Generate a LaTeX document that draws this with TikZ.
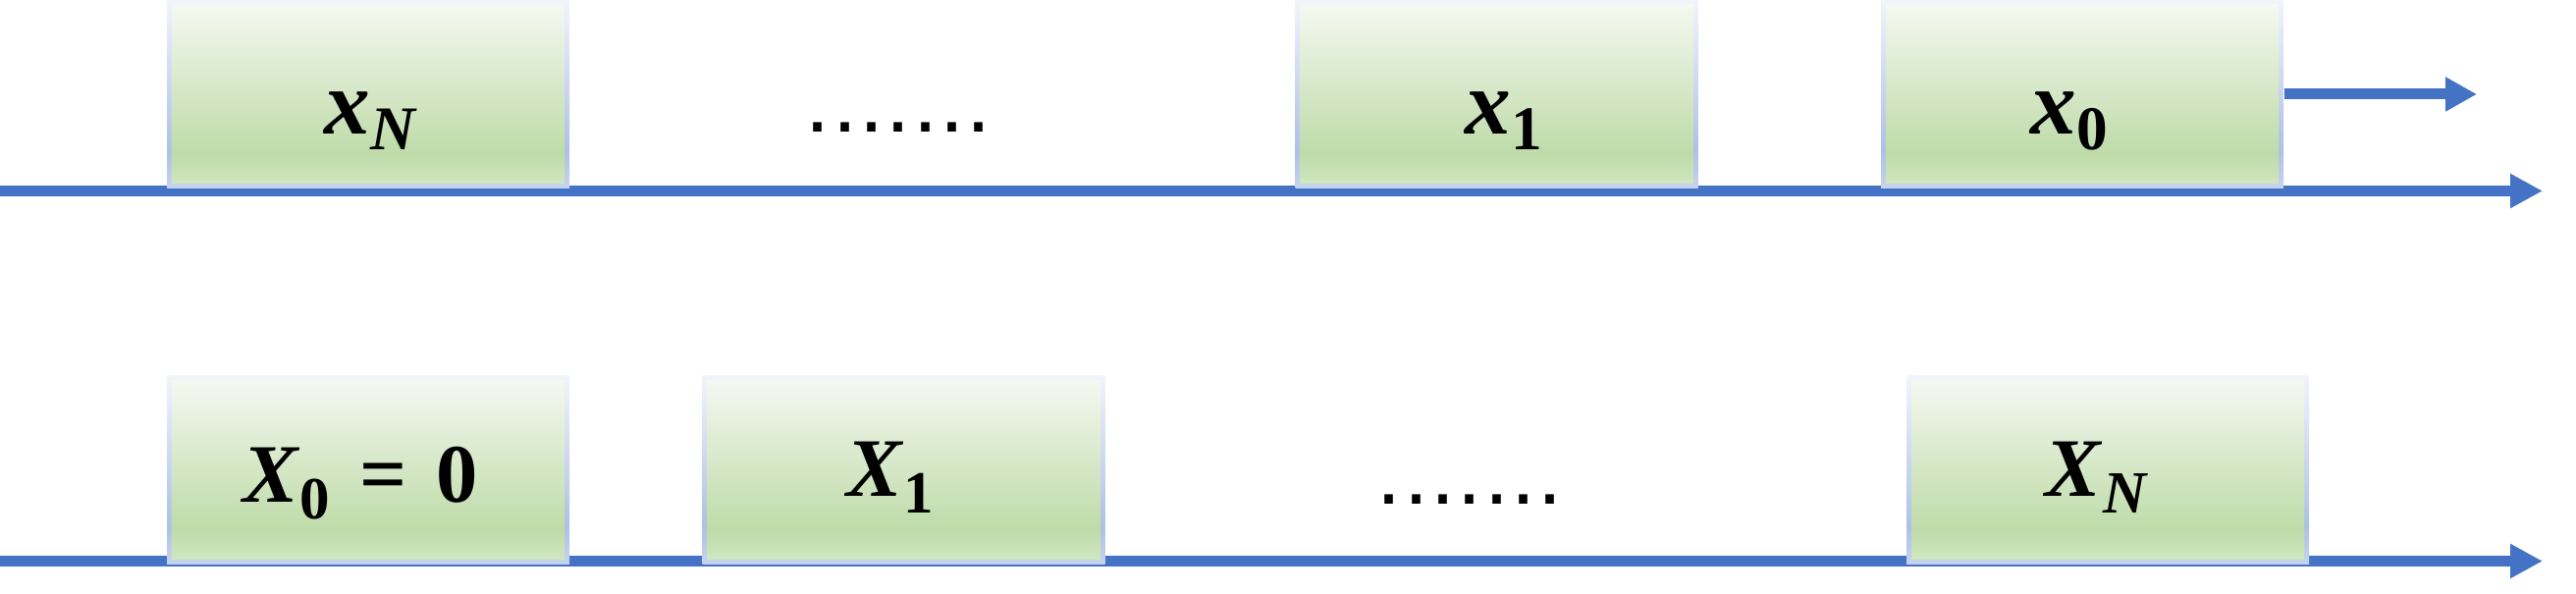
\documentclass[tikz,border=0pt]{standalone}
\usepackage{fontspec}
\setmainfont{Liberation Serif}
\newfontfamily\dotfont{Liberation Sans}
\usetikzlibrary{arrows.meta}
\definecolor{axisblue}{HTML}{4472C4}
\definecolor{ftop}{HTML}{F6F9F3}
\definecolor{fdark}{HTML}{BEDBA8}
\definecolor{fbot}{HTML}{D4E8C6}
\definecolor{btop}{HTML}{F2F4FB}
\definecolor{bdark}{HTML}{ADC1E5}
\definecolor{bbot}{HTML}{C6D4EE}
\pgfdeclareverticalshading{fillgrad}{100bp}{color(0bp)=(fbot); color(25bp)=(fbot); color(34bp)=(fdark); color(75bp)=(ftop); color(100bp)=(ftop)}
\pgfdeclareverticalshading{bordgrad}{100bp}{color(0bp)=(bbot); color(25bp)=(bbot); color(35bp)=(bdark); color(75bp)=(btop); color(100bp)=(btop)}
\newcommand{\sbs}[3]{\raisebox{-#1}{\fontsize{#2}{#2}\selectfont #3}}
\newcommand{\dt}{\makebox[8.19pt]{.}}
\begin{document}
\begin{tikzpicture}[x=0.3pt,y=-0.3pt,
  axis/.style={draw=axisblue,line width=3.3pt,-{Triangle[length=9.9pt,width=9.9pt]}},
  smallarrow/.style={draw=axisblue,line width=3.3pt,-{Triangle[length=9.6pt,width=9.9pt]}},
  slot/.style={rectangle,inner sep=0pt,minimum width=123pt,minimum height=57.6pt,
    shading=bordgrad,
    path picture={\shade[shading=fillgrad]
      ([xshift=1.5pt,yshift=-1.5pt]path picture bounding box.north west) rectangle
      ([xshift=-1.5pt,yshift=1.5pt]path picture bounding box.south east);}},
  toplabel/.style={anchor=base,inner sep=0pt,font=\fontsize{28pt}{30pt}\selectfont\bfseries},
  botlabel/.style={anchor=base,inner sep=0pt,font=\fontsize{25.4pt}{28pt}\selectfont\bfseries},
  dots/.style={anchor=base west,inner sep=0pt,font=\dotfont\fontsize{27pt}{27pt}\selectfont}]
\useasboundingbox (0,0) rectangle (2624,605);
% axes
\coordinate (t0) at (0,194.5);
\coordinate (t1) at (2590,194.5);
\coordinate (u0) at (0,571.5);
\coordinate (u1) at (2590,571.5);
\draw[axis] (t0) -- (t1);
\draw[axis] (u0) -- (u1);
% top row
\node[slot] (bN) at (375,96) {};
\node[slot] (b1) at (1524.5,96) {};
\node[slot] (b0) at (2121,96) {};
\node[toplabel] (lxN) at (377,137) {\textit{x}\sbs{4.8pt}{19pt}{\itshape N}};
\node[toplabel] (lx1) at (1532,137) {\textit{x}\sbs{4.8pt}{19pt}{\upshape 1}};
\node[toplabel] (lx0) at (2108,137) {\textit{x}\sbs{4.8pt}{19pt}{\upshape 0}};
\node[dots] (d1) at (819,135) {\dt\dt\dt\dt\dt\dt\dt};
\coordinate (out) at (2523,96);
\draw[smallarrow] (b0.east) -- (out);
% bottom row
\node[slot] (B0) at (375,478.5) {};
\node[slot] (B1) at (920.5,478.5) {};
\node[slot] (BN) at (2147,478.5) {};
\node[botlabel] (lX0) at (367,512) {\textit{X}\sbs{5.1pt}{18.3pt}{\upshape 0}\hspace{9pt}=\hspace{9pt}0};
\node[botlabel] (lX1) at (907,506) {\textit{X}\sbs{5.1pt}{18.3pt}{\upshape 1}};
\node[botlabel] (lXN) at (2135,506) {\textit{X}\sbs{5.1pt}{18.3pt}{\itshape N}};
\node[dots] (d2) at (1401,514) {\dt\dt\dt\dt\dt\dt\dt};
\end{tikzpicture}
\end{document}
